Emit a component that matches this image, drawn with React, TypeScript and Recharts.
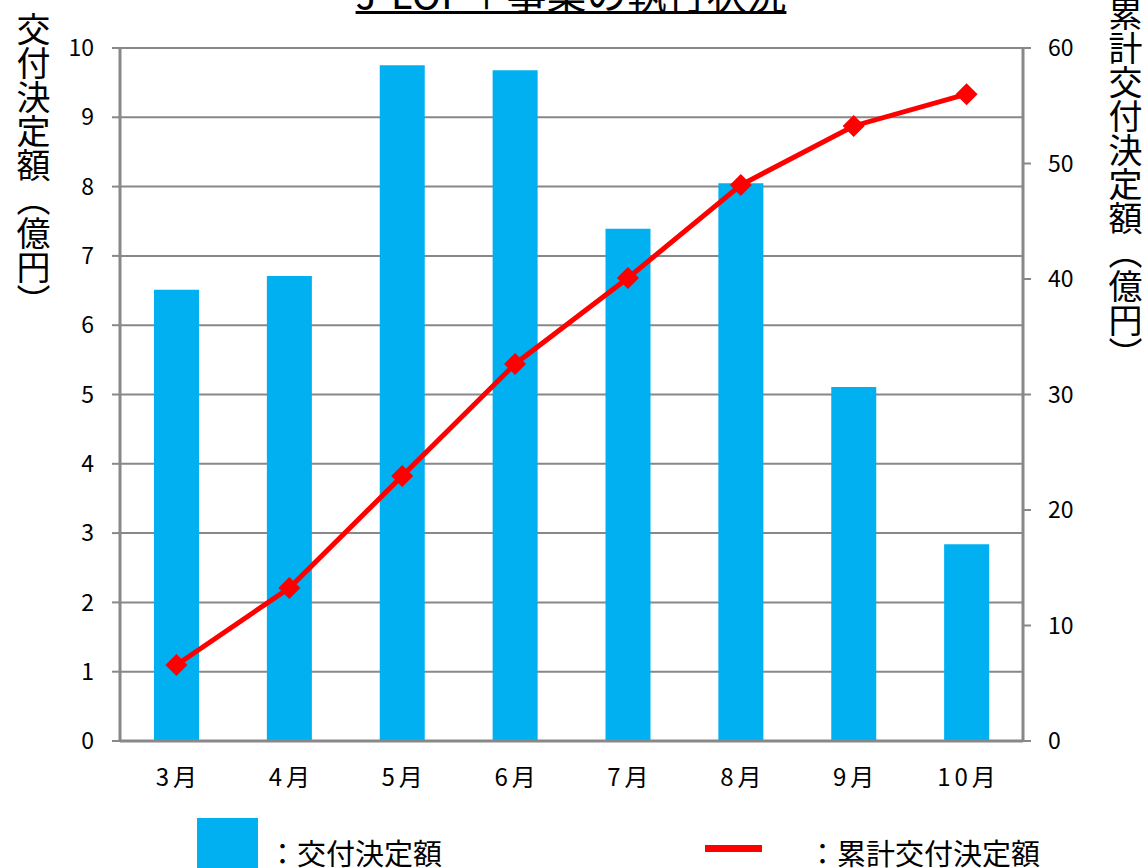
import { Bar, CartesianGrid, ComposedChart, Line, XAxis, YAxis } from "recharts";

const months = ["3月", "4月", "5月", "6月", "7月", "8月", "9月", "10月"];
const monthlyAmounts = [6.51, 6.71, 9.75, 9.68, 7.39, 8.05, 5.11, 2.84];
const cumulativeAmounts = [6.58, 13.25, 22.94, 32.64, 40.09, 48.14, 53.25, 56.0];
const leftTicks = [0, 1, 2, 3, 4, 5, 6, 7, 8, 9, 10];
const rightTicks = [0, 10, 20, 30, 40, 50, 60];

const FONT = "'Noto Sans CJK JP', 'Noto Sans', sans-serif";
const GRAY = "#888888";

const data = months.map((m, i) => ({
  month: m,
  amount: monthlyAmounts[i],
  cumulative: cumulativeAmounts[i],
}));

const Diamond = (props: any) => {
  const { cx, cy } = props;
  if (cx == null || cy == null) return null;
  const r = 11;
  return (
    <polygon
      points={`${cx},${cy - r} ${cx + r},${cy} ${cx},${cy + r} ${cx - r},${cy}`}
      fill="#FF0000"
    />
  );
};

const MonthTick = (props: any) => {
  const { x, y, payload } = props;
  return (
    <text
      x={x + 2}
      y={y + 26}
      dy="0.71em"
      textAnchor="middle"
      fill="#000"
      fontSize={24}
      fontFamily={FONT}
      letterSpacing={4}
    >
      {payload.value}
    </text>
  );
};

const vertical: React.CSSProperties = {
  position: "absolute",
  writingMode: "vertical-rl",
  fontSize: 34,
  lineHeight: "36px",
  color: "#000",
  fontFamily: FONT,
  whiteSpace: "nowrap",
};

const legendText: React.CSSProperties = {
  position: "absolute",
  top: 835,
  fontSize: 29,
  lineHeight: "34px",
  color: "#000",
  whiteSpace: "nowrap",
};

export default function App() {
  return (
    <div
      style={{
        position: "absolute",
        left: 0,
        top: 0,
        width: 1142,
        height: 868,
        overflow: "hidden",
        background: "#fff",
        fontFamily: FONT,
      }}
    >
      <ComposedChart
        width={1142}
        height={868}
        data={data}
        margin={{ top: 48, right: 0, bottom: 67, left: 0 }}
      >
        <CartesianGrid
          yAxisId="left"
          vertical={false}
          stroke={GRAY}
          strokeWidth={2}
        />
        <XAxis
          dataKey="month"
          height={60}
          axisLine={{ stroke: GRAY, strokeWidth: 3 }}
          tickLine={false}
          tickSize={0}
          tick={<MonthTick />}
          interval={0}
        />
        <YAxis
          yAxisId="left"
          orientation="left"
          width={120}
          domain={[0, 10]}
          ticks={leftTicks}
          interval={0}
          axisLine={{ stroke: GRAY, strokeWidth: 3 }}
          tickLine={{ stroke: GRAY, strokeWidth: 2 }}
          tickSize={8}
          tickMargin={18}
          tick={{ fill: "#000", fontSize: 23, fontFamily: FONT }}
        />
        <YAxis
          yAxisId="right"
          orientation="right"
          width={119}
          domain={[0, 60]}
          ticks={rightTicks}
          interval={0}
          axisLine={{ stroke: GRAY, strokeWidth: 3 }}
          tickLine={{ stroke: GRAY, strokeWidth: 2 }}
          tickSize={8}
          tickMargin={17}
          tick={{ fill: "#000", fontSize: 23, fontFamily: FONT }}
        />
        <Bar
          yAxisId="left"
          dataKey="amount"
          fill="#00B0F0"
          barSize={45}
          isAnimationActive={false}
        />
        <Line
          yAxisId="right"
          dataKey="cumulative"
          stroke="#FF0000"
          strokeWidth={5}
          dot={<Diamond />}
          activeDot={false}
          isAnimationActive={false}
        />
      </ComposedChart>

      <div
        style={{
          position: "absolute",
          left: 0,
          width: 1142,
          top: -31,
          textAlign: "center",
          fontSize: 40,
          lineHeight: "46px",
          textDecoration: "underline",
          textDecorationThickness: 3,
          color: "#000",
        }}
      >
        J-LOP＋事業の執行状況
      </div>

      <div style={{ ...vertical, left: 15, top: 12 }}>交付決定額（億円）</div>
      <div style={{ ...vertical, left: 1107, top: -3 }}>累計交付決定額（億円）</div>

      <div
        style={{
          position: "absolute",
          left: 197,
          top: 818,
          width: 61,
          height: 60,
          background: "#00B0F0",
        }}
      />
      <div style={{ ...legendText, left: 268 }}>：交付決定額</div>
      <div
        style={{
          position: "absolute",
          left: 705,
          top: 845,
          width: 57,
          height: 7,
          background: "#FF0000",
        }}
      />
      <div style={{ ...legendText, left: 808 }}>：累計交付決定額</div>
    </div>
  );
}
